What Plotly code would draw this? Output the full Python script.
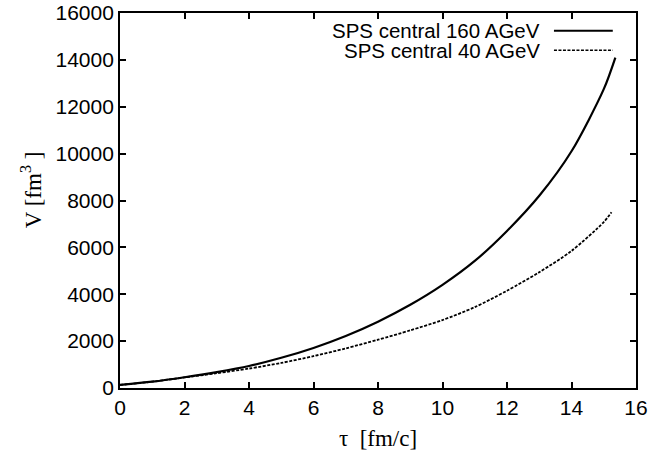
import plotly.graph_objects as go

tau_160 = [0, 1, 2, 3, 4, 5, 6, 7, 8, 9, 10, 11, 12, 13, 14, 15, 15.36]
vol_160 = [130, 270, 460, 680, 940, 1290, 1710, 2220, 2830, 3550, 4400, 5420, 6700, 8200, 10100, 12750, 14100]
tau_40 = [0, 1, 2, 3, 4, 5, 6, 7, 8, 9, 10, 11, 12, 13, 14, 15, 15.24]
vol_40 = [130, 270, 450, 630, 830, 1070, 1360, 1690, 2060, 2460, 2900, 3450, 4150, 4940, 5850, 7080, 7500]
labels = ["SPS central 160 AGeV", "SPS central 40 AGeV"]
x_ticks = [0, 2, 4, 6, 8, 10, 12, 14, 16]
y_ticks = [0, 2000, 4000, 6000, 8000, 10000, 12000, 14000, 16000]

fig = go.Figure()
fig.add_trace(go.Scatter(x=tau_160, y=vol_160, mode="lines",
                         line=dict(color="black", width=2.2, shape="spline", smoothing=0.8),
                         name=labels[0], showlegend=False))
fig.add_trace(go.Scatter(x=tau_40, y=vol_40, mode="lines",
                         line=dict(color="black", width=1.8, dash="3px,1.5px", shape="spline", smoothing=0.8),
                         name=labels[1], showlegend=False))

axis_common = dict(showgrid=False, zeroline=False, showline=True, linecolor="black", linewidth=1.8,
                   mirror="allticks", ticks="inside", ticklen=6, tickwidth=1.5, tickcolor="black",
                   automargin=False, ticklabeloverflow="allow",
                   tickfont=dict(family="Liberation Sans, Arial", size=21, color="black"))

fig.update_xaxes(range=[0, 16], tickvals=x_ticks, ticktext=[str(v) for v in x_ticks], **axis_common,
                 title=dict(text="τ  [fm/c]", font=dict(family="Liberation Serif, Times New Roman", size=23, color="black"), standoff=12))
fig.update_yaxes(range=[0, 16000], tickvals=y_ticks, ticktext=[str(v) for v in y_ticks], **axis_common)

# y-axis title placed like the reference (slightly above the plot centre)
fig.add_annotation(x=-0.172, y=0.528, xref="paper", yref="paper", text="V [fm<sup>3</sup> ]",
                   textangle=-90, showarrow=False, xanchor="center", yanchor="middle",
                   font=dict(family="Liberation Serif, Times New Roman", size=23, color="black"))

# legend (gnuplot style: text right-aligned, line sample to the right)
rows = [(labels[0], 0.9525, "solid"), (labels[1], 0.9005, "3px,1.5px")]
for text, yy, dash in rows:
    fig.add_annotation(x=0.817, y=yy, xref="paper", yref="paper", text=text, showarrow=False,
                       xanchor="right", yanchor="middle",
                       font=dict(family="Liberation Sans, Arial", size=20.5, color="black"))
    fig.add_shape(type="line", xref="paper", yref="paper", x0=0.841, x1=0.955, y0=yy, y1=yy,
                  line=dict(color="black", width=2 if dash == "solid" else 1.6, dash=dash))

fig.update_layout(width=650, height=462, margin=dict(l=120, r=14, t=13, b=74),
                  plot_bgcolor="white", paper_bgcolor="white")
fig.write_html("out.html", config={"displayModeBar": False},
               post_script="document.body.style.margin='0';")
